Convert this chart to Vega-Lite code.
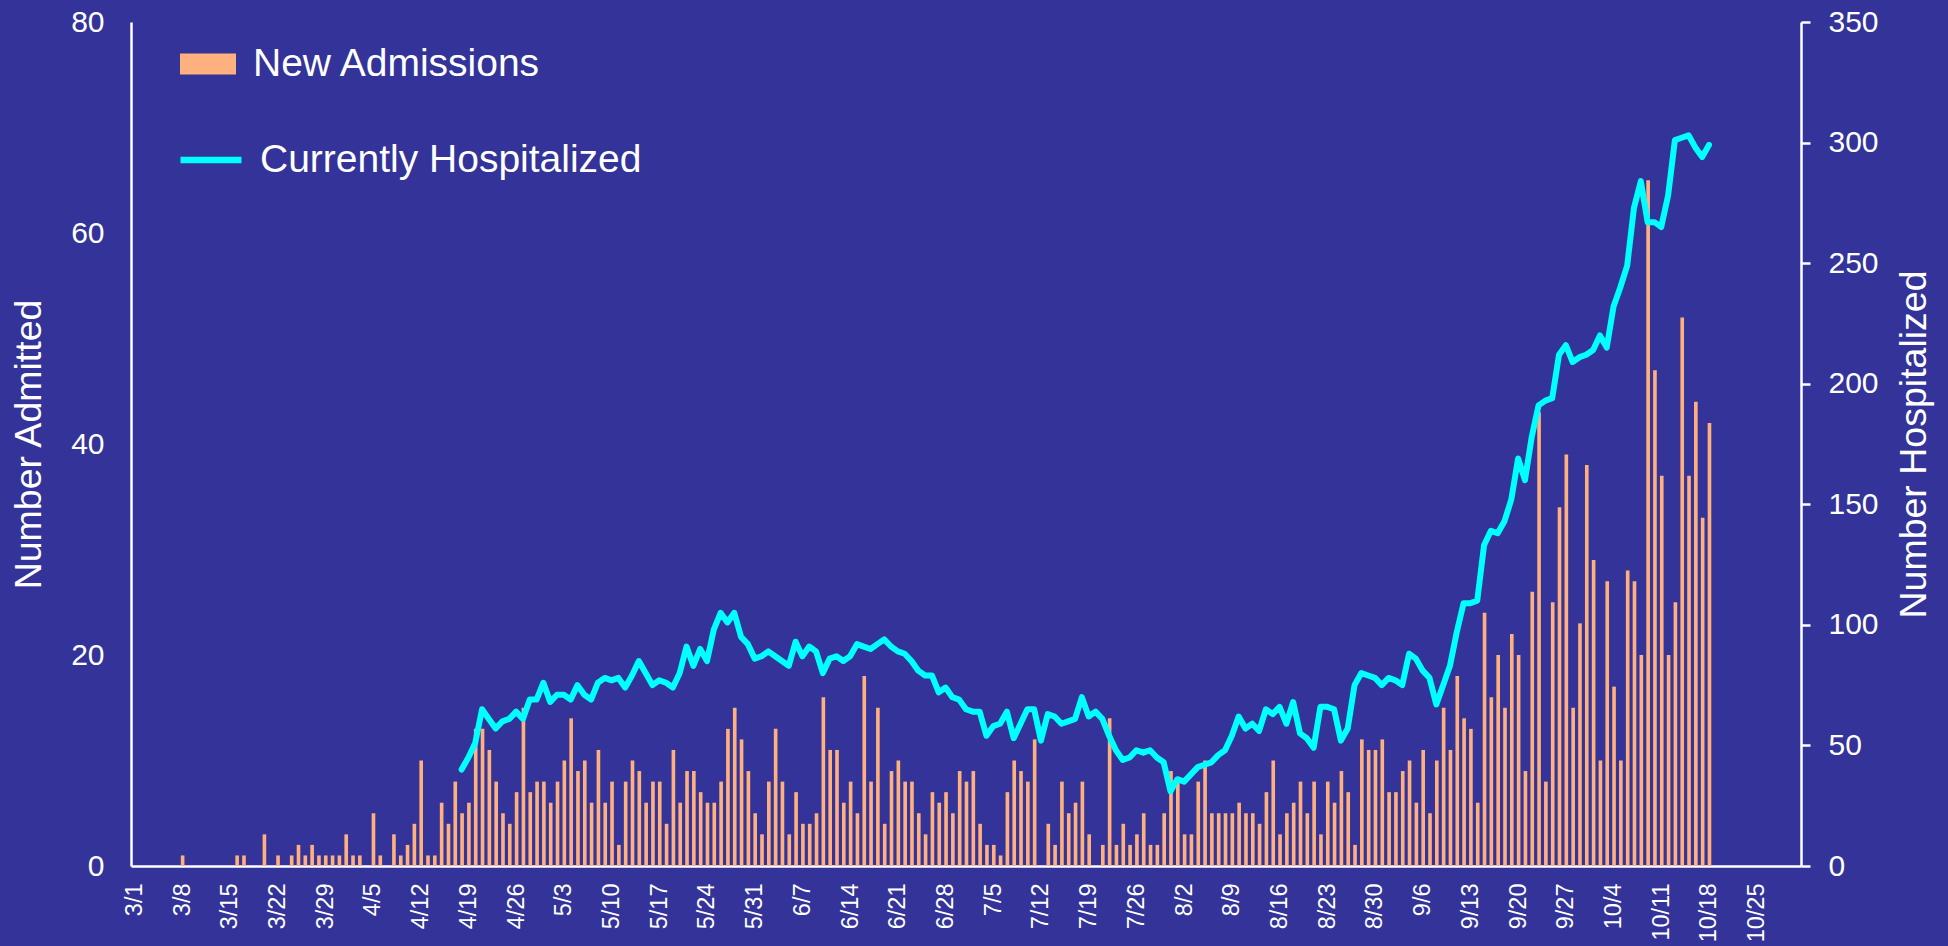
{
  "$schema": "https://vega.github.io/schema/vega-lite/v6.json",
  "width": 1670,
  "height": 844,
  "autosize": {"type": "none"},
  "padding": {"left": 131, "top": 22, "right": 147, "bottom": 80},
  "background": "#333399",
  "config": {
    "view": {"stroke": null},
    "font": "Liberation Sans",
    "axis": {"grid": false, "labelFont": "Liberation Sans", "titleFont": "Liberation Sans", "domainColor": "white", "domainWidth": 2.5, "labelColor": "white", "titleColor": "white", "titleFontWeight": "normal"},
    "legend": {"labelFont": "Liberation Sans", "labelLimit": 800}
  },
  "datasets": {
    "adm": [
      {"d":"2020-03-01","a":0},{"d":"2020-03-02","a":0},{"d":"2020-03-03","a":0},{"d":"2020-03-04","a":0},{"d":"2020-03-05","a":0},{"d":"2020-03-06","a":0},{"d":"2020-03-07","a":0},{"d":"2020-03-08","a":1},{"d":"2020-03-09","a":0},{"d":"2020-03-10","a":0},{"d":"2020-03-11","a":0},{"d":"2020-03-12","a":0},{"d":"2020-03-13","a":0},{"d":"2020-03-14","a":0},{"d":"2020-03-15","a":0},{"d":"2020-03-16","a":1},{"d":"2020-03-17","a":1},{"d":"2020-03-18","a":0},{"d":"2020-03-19","a":0},{"d":"2020-03-20","a":3},{"d":"2020-03-21","a":0},{"d":"2020-03-22","a":1},{"d":"2020-03-23","a":0},{"d":"2020-03-24","a":1},{"d":"2020-03-25","a":2},{"d":"2020-03-26","a":1},{"d":"2020-03-27","a":2},{"d":"2020-03-28","a":1},{"d":"2020-03-29","a":1},{"d":"2020-03-30","a":1},{"d":"2020-03-31","a":1},
      {"d":"2020-04-01","a":3},{"d":"2020-04-02","a":1},{"d":"2020-04-03","a":1},{"d":"2020-04-04","a":0},{"d":"2020-04-05","a":5},{"d":"2020-04-06","a":1},{"d":"2020-04-07","a":0},{"d":"2020-04-08","a":3},{"d":"2020-04-09","a":1},{"d":"2020-04-10","a":2},{"d":"2020-04-11","a":4},{"d":"2020-04-12","a":10},{"d":"2020-04-13","a":1},{"d":"2020-04-14","a":1},{"d":"2020-04-15","a":6},{"d":"2020-04-16","a":4},{"d":"2020-04-17","a":8},{"d":"2020-04-18","a":5},{"d":"2020-04-19","a":6},{"d":"2020-04-20","a":13},{"d":"2020-04-21","a":13},{"d":"2020-04-22","a":11},{"d":"2020-04-23","a":8},{"d":"2020-04-24","a":5},{"d":"2020-04-25","a":4},{"d":"2020-04-26","a":7},{"d":"2020-04-27","a":15},{"d":"2020-04-28","a":7},{"d":"2020-04-29","a":8},{"d":"2020-04-30","a":8},
      {"d":"2020-05-01","a":6},{"d":"2020-05-02","a":8},{"d":"2020-05-03","a":10},{"d":"2020-05-04","a":14},{"d":"2020-05-05","a":9},{"d":"2020-05-06","a":10},{"d":"2020-05-07","a":6},{"d":"2020-05-08","a":11},{"d":"2020-05-09","a":6},{"d":"2020-05-10","a":8},{"d":"2020-05-11","a":2},{"d":"2020-05-12","a":8},{"d":"2020-05-13","a":10},{"d":"2020-05-14","a":9},{"d":"2020-05-15","a":6},{"d":"2020-05-16","a":8},{"d":"2020-05-17","a":8},{"d":"2020-05-18","a":4},{"d":"2020-05-19","a":11},{"d":"2020-05-20","a":6},{"d":"2020-05-21","a":9},{"d":"2020-05-22","a":9},{"d":"2020-05-23","a":7},{"d":"2020-05-24","a":6},{"d":"2020-05-25","a":6},{"d":"2020-05-26","a":8},{"d":"2020-05-27","a":13},{"d":"2020-05-28","a":15},{"d":"2020-05-29","a":12},{"d":"2020-05-30","a":9},{"d":"2020-05-31","a":5},
      {"d":"2020-06-01","a":3},{"d":"2020-06-02","a":8},{"d":"2020-06-03","a":13},{"d":"2020-06-04","a":8},{"d":"2020-06-05","a":3},{"d":"2020-06-06","a":7},{"d":"2020-06-07","a":4},{"d":"2020-06-08","a":4},{"d":"2020-06-09","a":5},{"d":"2020-06-10","a":16},{"d":"2020-06-11","a":11},{"d":"2020-06-12","a":11},{"d":"2020-06-13","a":6},{"d":"2020-06-14","a":8},{"d":"2020-06-15","a":5},{"d":"2020-06-16","a":18},{"d":"2020-06-17","a":8},{"d":"2020-06-18","a":15},{"d":"2020-06-19","a":4},{"d":"2020-06-20","a":9},{"d":"2020-06-21","a":10},{"d":"2020-06-22","a":8},{"d":"2020-06-23","a":8},{"d":"2020-06-24","a":5},{"d":"2020-06-25","a":3},{"d":"2020-06-26","a":7},{"d":"2020-06-27","a":6},{"d":"2020-06-28","a":7},{"d":"2020-06-29","a":5},{"d":"2020-06-30","a":9},
      {"d":"2020-07-01","a":8},{"d":"2020-07-02","a":9},{"d":"2020-07-03","a":4},{"d":"2020-07-04","a":2},{"d":"2020-07-05","a":2},{"d":"2020-07-06","a":1},{"d":"2020-07-07","a":7},{"d":"2020-07-08","a":10},{"d":"2020-07-09","a":9},{"d":"2020-07-10","a":8},{"d":"2020-07-11","a":12},{"d":"2020-07-12","a":0},{"d":"2020-07-13","a":4},{"d":"2020-07-14","a":2},{"d":"2020-07-15","a":8},{"d":"2020-07-16","a":5},{"d":"2020-07-17","a":6},{"d":"2020-07-18","a":8},{"d":"2020-07-19","a":3},{"d":"2020-07-20","a":0},{"d":"2020-07-21","a":2},{"d":"2020-07-22","a":14},{"d":"2020-07-23","a":2},{"d":"2020-07-24","a":4},{"d":"2020-07-25","a":2},{"d":"2020-07-26","a":3},{"d":"2020-07-27","a":5},{"d":"2020-07-28","a":2},{"d":"2020-07-29","a":2},{"d":"2020-07-30","a":5},{"d":"2020-07-31","a":9},
      {"d":"2020-08-01","a":8},{"d":"2020-08-02","a":3},{"d":"2020-08-03","a":3},{"d":"2020-08-04","a":8},{"d":"2020-08-05","a":10},{"d":"2020-08-06","a":5},{"d":"2020-08-07","a":5},{"d":"2020-08-08","a":5},{"d":"2020-08-09","a":5},{"d":"2020-08-10","a":6},{"d":"2020-08-11","a":5},{"d":"2020-08-12","a":5},{"d":"2020-08-13","a":4},{"d":"2020-08-14","a":7},{"d":"2020-08-15","a":10},{"d":"2020-08-16","a":3},{"d":"2020-08-17","a":5},{"d":"2020-08-18","a":6},{"d":"2020-08-19","a":8},{"d":"2020-08-20","a":5},{"d":"2020-08-21","a":8},{"d":"2020-08-22","a":3},{"d":"2020-08-23","a":8},{"d":"2020-08-24","a":6},{"d":"2020-08-25","a":9},{"d":"2020-08-26","a":7},{"d":"2020-08-27","a":2},{"d":"2020-08-28","a":12},{"d":"2020-08-29","a":11},{"d":"2020-08-30","a":11},{"d":"2020-08-31","a":12},
      {"d":"2020-09-01","a":7},{"d":"2020-09-02","a":7},{"d":"2020-09-03","a":9},{"d":"2020-09-04","a":10},{"d":"2020-09-05","a":6},{"d":"2020-09-06","a":11},{"d":"2020-09-07","a":5},{"d":"2020-09-08","a":10},{"d":"2020-09-09","a":15},{"d":"2020-09-10","a":11},{"d":"2020-09-11","a":18},{"d":"2020-09-12","a":14},{"d":"2020-09-13","a":13},{"d":"2020-09-14","a":6},{"d":"2020-09-15","a":24},{"d":"2020-09-16","a":16},{"d":"2020-09-17","a":20},{"d":"2020-09-18","a":15},{"d":"2020-09-19","a":22},{"d":"2020-09-20","a":20},{"d":"2020-09-21","a":9},{"d":"2020-09-22","a":26},{"d":"2020-09-23","a":43},{"d":"2020-09-24","a":8},{"d":"2020-09-25","a":25},{"d":"2020-09-26","a":34},{"d":"2020-09-27","a":39},{"d":"2020-09-28","a":15},{"d":"2020-09-29","a":23},{"d":"2020-09-30","a":38},
      {"d":"2020-10-01","a":29},{"d":"2020-10-02","a":10},{"d":"2020-10-03","a":27},{"d":"2020-10-04","a":17},{"d":"2020-10-05","a":10},{"d":"2020-10-06","a":28},{"d":"2020-10-07","a":27},{"d":"2020-10-08","a":20},{"d":"2020-10-09","a":65},{"d":"2020-10-10","a":47},{"d":"2020-10-11","a":37},{"d":"2020-10-12","a":20},{"d":"2020-10-13","a":25},{"d":"2020-10-14","a":52},{"d":"2020-10-15","a":37},{"d":"2020-10-16","a":44},{"d":"2020-10-17","a":33},{"d":"2020-10-18","a":42}
    ],
    "hosp": [
      {"d":"2020-04-18","h":40},{"d":"2020-04-19","h":45},{"d":"2020-04-20","h":51},{"d":"2020-04-21","h":65},{"d":"2020-04-22","h":61},{"d":"2020-04-23","h":57},{"d":"2020-04-24","h":60},{"d":"2020-04-25","h":61},{"d":"2020-04-26","h":64},{"d":"2020-04-27","h":61},{"d":"2020-04-28","h":69},{"d":"2020-04-29","h":69},{"d":"2020-04-30","h":76},
      {"d":"2020-05-01","h":68},{"d":"2020-05-02","h":71},{"d":"2020-05-03","h":71},{"d":"2020-05-04","h":69},{"d":"2020-05-05","h":75},{"d":"2020-05-06","h":71},{"d":"2020-05-07","h":69},{"d":"2020-05-08","h":76},{"d":"2020-05-09","h":78},{"d":"2020-05-10","h":77},{"d":"2020-05-11","h":78},{"d":"2020-05-12","h":74},{"d":"2020-05-13","h":79},{"d":"2020-05-14","h":85},{"d":"2020-05-15","h":80},{"d":"2020-05-16","h":75},{"d":"2020-05-17","h":77},{"d":"2020-05-18","h":76},{"d":"2020-05-19","h":74},{"d":"2020-05-20","h":80},{"d":"2020-05-21","h":91},{"d":"2020-05-22","h":83},{"d":"2020-05-23","h":90},{"d":"2020-05-24","h":85},{"d":"2020-05-25","h":98},{"d":"2020-05-26","h":105},{"d":"2020-05-27","h":101},{"d":"2020-05-28","h":105},{"d":"2020-05-29","h":95},{"d":"2020-05-30","h":92},{"d":"2020-05-31","h":86},
      {"d":"2020-06-01","h":87},{"d":"2020-06-02","h":89},{"d":"2020-06-03","h":87},{"d":"2020-06-04","h":85},{"d":"2020-06-05","h":83},{"d":"2020-06-06","h":93},{"d":"2020-06-07","h":87},{"d":"2020-06-08","h":91},{"d":"2020-06-09","h":89},{"d":"2020-06-10","h":80},{"d":"2020-06-11","h":86},{"d":"2020-06-12","h":87},{"d":"2020-06-13","h":85},{"d":"2020-06-14","h":87},{"d":"2020-06-15","h":92},{"d":"2020-06-16","h":91},{"d":"2020-06-17","h":90},{"d":"2020-06-18","h":92},{"d":"2020-06-19","h":94},{"d":"2020-06-20","h":91},{"d":"2020-06-21","h":89},{"d":"2020-06-22","h":88},{"d":"2020-06-23","h":85},{"d":"2020-06-24","h":81},{"d":"2020-06-25","h":79},{"d":"2020-06-26","h":79},{"d":"2020-06-27","h":72},{"d":"2020-06-28","h":74},{"d":"2020-06-29","h":70},{"d":"2020-06-30","h":69},
      {"d":"2020-07-01","h":65},{"d":"2020-07-02","h":64},{"d":"2020-07-03","h":64},{"d":"2020-07-04","h":54},{"d":"2020-07-05","h":58},{"d":"2020-07-06","h":59},{"d":"2020-07-07","h":64},{"d":"2020-07-08","h":53},{"d":"2020-07-09","h":59},{"d":"2020-07-10","h":65},{"d":"2020-07-11","h":65},{"d":"2020-07-12","h":52},{"d":"2020-07-13","h":63},{"d":"2020-07-14","h":62},{"d":"2020-07-15","h":59},{"d":"2020-07-16","h":60},{"d":"2020-07-17","h":61},{"d":"2020-07-18","h":70},{"d":"2020-07-19","h":62},{"d":"2020-07-20","h":64},{"d":"2020-07-21","h":61},{"d":"2020-07-22","h":54},{"d":"2020-07-23","h":48},{"d":"2020-07-24","h":44},{"d":"2020-07-25","h":45},{"d":"2020-07-26","h":48},{"d":"2020-07-27","h":47},{"d":"2020-07-28","h":48},{"d":"2020-07-29","h":45},{"d":"2020-07-30","h":43},{"d":"2020-07-31","h":31},
      {"d":"2020-08-01","h":36},{"d":"2020-08-02","h":35},{"d":"2020-08-03","h":38},{"d":"2020-08-04","h":41},{"d":"2020-08-05","h":42},{"d":"2020-08-06","h":43},{"d":"2020-08-07","h":46},{"d":"2020-08-08","h":48},{"d":"2020-08-09","h":54},{"d":"2020-08-10","h":62},{"d":"2020-08-11","h":57},{"d":"2020-08-12","h":59},{"d":"2020-08-13","h":56},{"d":"2020-08-14","h":65},{"d":"2020-08-15","h":63},{"d":"2020-08-16","h":66},{"d":"2020-08-17","h":59},{"d":"2020-08-18","h":68},{"d":"2020-08-19","h":55},{"d":"2020-08-20","h":53},{"d":"2020-08-21","h":49},{"d":"2020-08-22","h":66},{"d":"2020-08-23","h":66},{"d":"2020-08-24","h":65},{"d":"2020-08-25","h":52},{"d":"2020-08-26","h":57},{"d":"2020-08-27","h":75},{"d":"2020-08-28","h":80},{"d":"2020-08-29","h":79},{"d":"2020-08-30","h":78},{"d":"2020-08-31","h":75},
      {"d":"2020-09-01","h":78},{"d":"2020-09-02","h":77},{"d":"2020-09-03","h":75},{"d":"2020-09-04","h":88},{"d":"2020-09-05","h":86},{"d":"2020-09-06","h":81},{"d":"2020-09-07","h":78},{"d":"2020-09-08","h":67},{"d":"2020-09-09","h":75},{"d":"2020-09-10","h":83},{"d":"2020-09-11","h":97},{"d":"2020-09-12","h":109},{"d":"2020-09-13","h":109},{"d":"2020-09-14","h":110},{"d":"2020-09-15","h":133},{"d":"2020-09-16","h":139},{"d":"2020-09-17","h":138},{"d":"2020-09-18","h":143},{"d":"2020-09-19","h":152},{"d":"2020-09-20","h":169},{"d":"2020-09-21","h":160},{"d":"2020-09-22","h":178},{"d":"2020-09-23","h":191},{"d":"2020-09-24","h":193},{"d":"2020-09-25","h":194},{"d":"2020-09-26","h":212},{"d":"2020-09-27","h":216},{"d":"2020-09-28","h":209},{"d":"2020-09-29","h":211},{"d":"2020-09-30","h":212},
      {"d":"2020-10-01","h":214},{"d":"2020-10-02","h":220},{"d":"2020-10-03","h":215},{"d":"2020-10-04","h":232},{"d":"2020-10-05","h":240},{"d":"2020-10-06","h":249},{"d":"2020-10-07","h":273},{"d":"2020-10-08","h":284},{"d":"2020-10-09","h":267},{"d":"2020-10-10","h":267},{"d":"2020-10-11","h":265},{"d":"2020-10-12","h":278},{"d":"2020-10-13","h":301},{"d":"2020-10-14","h":302},{"d":"2020-10-15","h":303},{"d":"2020-10-16","h":298},{"d":"2020-10-17","h":294},{"d":"2020-10-18","h":299}
    ]
  },
  "layer": [
    {
      "data": {"name": "adm", "format": {"parse": {"d": "date:'%Y-%m-%d'"}}},
      "mark": {"type": "bar", "width": {"band": 0.68}},
      "encoding": {
        "x": {
          "field": "d", "type": "temporal", "timeUnit": "yearmonthdate",
          "scale": {"domain": [{"year": 2020, "month": 3, "date": 1}, {"year": 2020, "month": 11, "date": 1}], "nice": false, "padding": 0},
          "axis": {
            "title": null,
            "values": [
              {"year":2020,"month":3,"date":1,"hours":12},{"year":2020,"month":3,"date":8,"hours":12},{"year":2020,"month":3,"date":15,"hours":12},{"year":2020,"month":3,"date":22,"hours":12},{"year":2020,"month":3,"date":29,"hours":12},
              {"year":2020,"month":4,"date":5,"hours":12},{"year":2020,"month":4,"date":12,"hours":12},{"year":2020,"month":4,"date":19,"hours":12},{"year":2020,"month":4,"date":26,"hours":12},
              {"year":2020,"month":5,"date":3,"hours":12},{"year":2020,"month":5,"date":10,"hours":12},{"year":2020,"month":5,"date":17,"hours":12},{"year":2020,"month":5,"date":24,"hours":12},{"year":2020,"month":5,"date":31,"hours":12},
              {"year":2020,"month":6,"date":7,"hours":12},{"year":2020,"month":6,"date":14,"hours":12},{"year":2020,"month":6,"date":21,"hours":12},{"year":2020,"month":6,"date":28,"hours":12},
              {"year":2020,"month":7,"date":5,"hours":12},{"year":2020,"month":7,"date":12,"hours":12},{"year":2020,"month":7,"date":19,"hours":12},{"year":2020,"month":7,"date":26,"hours":12},
              {"year":2020,"month":8,"date":2,"hours":12},{"year":2020,"month":8,"date":9,"hours":12},{"year":2020,"month":8,"date":16,"hours":12},{"year":2020,"month":8,"date":23,"hours":12},{"year":2020,"month":8,"date":30,"hours":12},
              {"year":2020,"month":9,"date":6,"hours":12},{"year":2020,"month":9,"date":13,"hours":12},{"year":2020,"month":9,"date":20,"hours":12},{"year":2020,"month":9,"date":27,"hours":12},
              {"year":2020,"month":10,"date":4,"hours":12},{"year":2020,"month":10,"date":11,"hours":12},{"year":2020,"month":10,"date":18,"hours":12},{"year":2020,"month":10,"date":25,"hours":12}
            ],
            "format": "%-m/%-d",
            "labelAngle": -90,
            "labelFont": "Liberation Sans",
            "labelFontSize": 23.5,
            "labelPadding": 17,
            "ticks": false,
            "labelOverlap": false,
            "labelFlush": false
          }
        },
        "y": {
          "field": "a", "type": "quantitative",
          "scale": {"domain": [0, 80], "nice": false},
          "axis": {"orient": "left", "values": [0, 20, 40, 60, 80], "ticks": false, "labelPadding": 27, "labelFontSize": 30, "title": "Number Admitted", "titleFontSize": 37.5, "titlePadding": 22}
        },
        "color": {
          "datum": "New Admissions",
          "scale": {"range": ["#FFB07F"]},
          "legend": {"orient": "none", "legendX": 49, "legendY": 14, "title": null, "padding": 0, "symbolType": "M-1,-0.375H1V0.375H-1Z", "symbolSize": 3136, "symbolStrokeWidth": 0, "labelFontSize": 39, "labelColor": "white", "labelOffset": 17, "labelLimit": 800}
        }
      }
    },
    {
      "data": {"name": "hosp", "format": {"parse": {"d": "date:'%Y-%m-%d'"}}},
      "mark": {"type": "line", "strokeWidth": 6, "strokeJoin": "round", "strokeCap": "round"},
      "encoding": {
        "x": {"field": "d", "type": "temporal", "timeUnit": "yearmonthdate", "bandPosition": 0.5, "title": null},
        "y": {
          "field": "h", "type": "quantitative",
          "scale": {"domain": [0, 350], "nice": false},
          "axis": {"orient": "right", "values": [0, 50, 100, 150, 200, 250, 300, 350], "ticks": true, "tickSize": 9, "tickWidth": 2.5, "tickColor": "white", "labelPadding": 18, "labelFontSize": 30, "title": "Number Hospitalized", "titleFontSize": 37.5, "titleAngle": -90, "titleBaseline": "top", "titlePadding": 17}
        },
        "stroke": {
          "datum": "Currently Hospitalized",
          "scale": {"range": ["#00FFFF"]},
          "legend": {"orient": "none", "legendX": 46, "legendY": 104, "title": null, "padding": 0, "symbolType": "stroke", "symbolSize": 3721, "symbolStrokeWidth": 6.5, "labelFontSize": 39, "labelColor": "white", "labelOffset": 15, "labelLimit": 800, "symbolStrokeColor": "#00FFFF"}
        }
      }
    }
  ],
  "resolve": {"scale": {"y": "independent"}}
}
